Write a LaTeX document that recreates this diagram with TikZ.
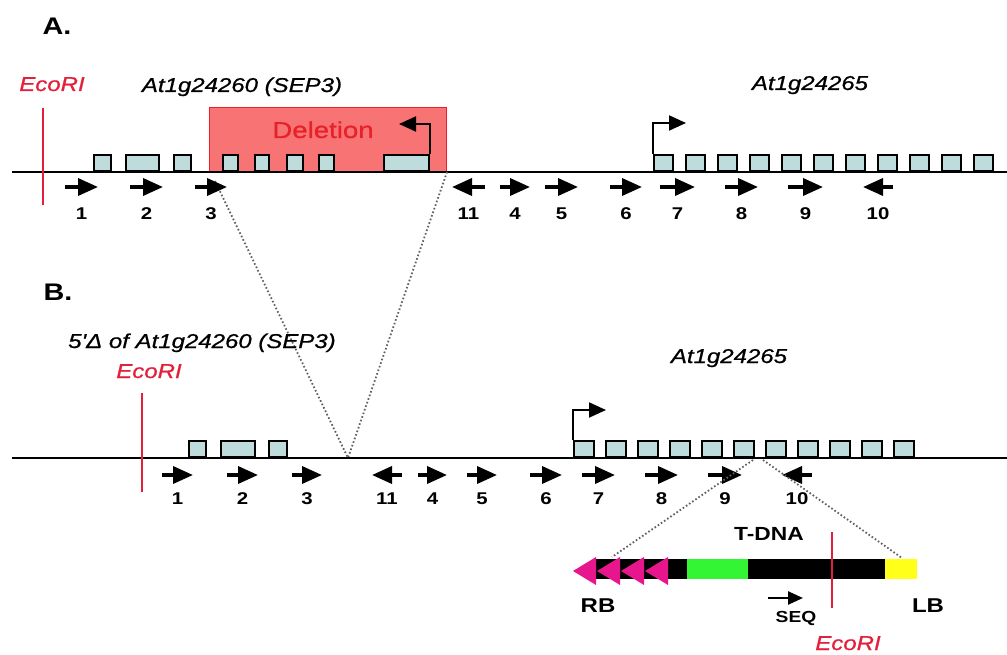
\documentclass[tikz,border=0pt]{standalone}
\usepackage{fontspec}
\setmainfont{Liberation Sans}[FakeStretch=1.2]
\newfontfamily\labfont{Liberation Sans}[FakeStretch=1.2, FakeBold=0.8]
\usepackage{tikz}
\usetikzlibrary{arrows.meta}

\definecolor{exonfill}{HTML}{BFDCDC}
\definecolor{delfill}{HTML}{F87474}
\definecolor{delred}{HTML}{E8202A}
\definecolor{ecored}{HTML}{E3203A}
\definecolor{rbpink}{HTML}{E8168C}
\definecolor{tgreen}{HTML}{33F533}
\definecolor{tyellow}{HTML}{FFFF1A}

\begin{document}
\begin{tikzpicture}[x=1pt, y=-1pt,
    exon/.style={rectangle, draw=black, line width=1.9pt, fill=exonfill, minimum height=16pt, inner sep=0pt, anchor=south west},
    primer/.style={line width=3.5pt, -{Triangle[length=20pt,width=17pt]}},
    bent/.style={line width=2pt, -{Triangle[length=17pt,width=15pt]}},
    site/.style={draw=ecored, line width=1.4pt},
    dna/.style={line width=1.8pt},
    dotline/.style={gray!75!black, line width=1.8pt, dash pattern=on 1.6pt off 2.2pt},
    num/.style={font=\fontsize{17}{20}\selectfont\bfseries, inner sep=0pt, anchor=base},
    gene/.style={font=\labfont\fontsize{20}{24}\selectfont\itshape, inner sep=0pt, anchor=base},
    enzyme/.style={gene, text=ecored},
    panel/.style={font=\fontsize{24}{28}\selectfont\bfseries, inner sep=0pt, anchor=base},
    tlabel/.style={font=\fontsize{19}{22}\selectfont\bfseries, inner sep=0pt, anchor=base},
    block/.style={rectangle, inner sep=0pt, minimum height=20pt, anchor=north west}
]
    \useasboundingbox (0,0) rectangle (1007,655);

    % --- Panel A: wild-type locus ---
    \node[panel] (LabA) at (57,35) {A.};
    \node[enzyme] (EcoA)   at (52,91)  {EcoRI};
    \node[gene]   (GeneA1) at (242,92) {At1g24260 (SEP3)};
    \node[gene]   (GeneA2) at (810,90) {At1g24265};

    % deleted region
    \node[rectangle, draw=delred, fill=delfill, line width=1.2pt, inner sep=0pt,
          minimum width=237pt, minimum height=64pt, anchor=south west] (Del) at (209,172) {};
    \node[font=\labfont\fontsize{23}{26}\selectfont, text=delred, inner sep=0pt, anchor=base] (DelLab) at (323,138) {Deletion};

    \coordinate (AL) at (12,172);
    \coordinate (AR) at (1007,172);
    \draw[dna] (AL) -- (AR);
    \draw[site] (43,108) -- (43,205);

    % exons of At1g24260
    \node[exon, minimum width=17pt] (Ae1) at (93,172)  {};
    \node[exon, minimum width=33pt] (Ae2) at (125,172) {};
    \node[exon, minimum width=17pt] (Ae3) at (173,172) {};
    \node[exon, minimum width=15pt] (Ae4) at (222,172) {};
    \node[exon, minimum width=14pt] (Ae5) at (254,172) {};
    \node[exon, minimum width=16pt] (Ae6) at (286,172) {};
    \node[exon, minimum width=15pt] (Ae7) at (318,172) {};
    \node[exon, minimum width=45pt] (Ae8) at (383,172) {};

    % exons of At1g24265
    \foreach \i in {0,...,10}
        \node[exon, minimum width=19pt] (Af\i) at ({653+32*\i},172) {};

    % transcription starts
    \coordinate (AdelTip) at (399,124);
    \coordinate (AgeneTip) at (686,123);
    \draw[bent] (Ae8.north east) |- (AdelTip);
    \draw[bent] (Af0.north west) |- (AgeneTip);

    % --- lines from A to the junction in B ---
    \coordinate (Acut1) at (215,181);
    \coordinate (Acut2) at (447,172);
    \coordinate (Vtip)  at (348,458);
    \draw[dotline] (Acut1) -- (Vtip);
    \draw[dotline] (Acut2) -- (Vtip);

    % primers A
    \foreach \xa/\xb/\n in {65/98/1, 130/163/2, 195/227/3, 485/452/11, 500/530/4,
                            545/578/5, 610/642/6, 660/695/7, 725/758/8, 788/823/9, 893/863/10} {
        \draw[primer] (\xa,187) -- (\xb,187);
        \node[num] (Ap\n) at ({(\xa+\xb)/2},220) {\n};
    }

    % --- Panel B: deletion allele ---
    \node[panel] (LabB) at (58,300) {B.};
    \node[gene]   (GeneB1) at (202,348) {5'Δ of At1g24260 (SEP3)};
    \node[enzyme] (EcoB)   at (149,378) {EcoRI};
    \node[gene]   (GeneB2) at (729,363) {At1g24265};

    \coordinate (BL) at (12,458);
    \coordinate (BR) at (1007,458);
    \draw[dna] (BL) -- (BR);
    \draw[site] (142,393) -- (142,492);

    \node[exon, minimum width=17pt] (Be1) at (188,458) {};
    \node[exon, minimum width=34pt] (Be2) at (220,458) {};
    \node[exon, minimum width=18pt] (Be3) at (268,458) {};
    \foreach \i in {0,...,10}
        \node[exon, minimum width=20pt] (Bf\i) at ({573+32*\i},458) {};

    \coordinate (BgeneTip) at (606,410);
    \draw[bent] (Bf0.north west) |- (BgeneTip);

    % primers B
    \foreach \xa/\xb/\n in {162/193/1, 227/258/2, 292/322/3, 402/372/11, 418/447/4,
                            467/497/5, 530/562/6, 582/615/7, 645/678/8, 708/742/9, 812/782/10} {
        \draw[primer] (\xa,475) -- (\xb,475);
        \node[num] (Bp\n) at ({(\xa+\xb)/2},504) {\n};
    }

    % --- T-DNA insertion ---
    \coordinate (Ins1) at (753,460);
    \coordinate (Ins2) at (763,460);
    \coordinate (TL) at (612,557);
    \coordinate (TR) at (902,558);
    \draw[dotline] (Ins1) -- (TL);
    \draw[dotline] (Ins2) -- (TR);

    \node[block, fill=black,   minimum width=292pt] (Tbar)   at (593,559) {};
    \node[block, fill=tgreen,  minimum width=61pt]  (Tgreen) at (687,559) {};
    \node[block, fill=tyellow, minimum width=32pt]  (Tlb)    at (885,559) {};
    \foreach \t in {573,597,621,645}
        \fill[rbpink] (\t,571) -- (\t+23,557) -- (\t+23,585) -- cycle;
    \draw[site] (832,532) -- (832,608);

    \node[tlabel] (TLab) at (769,540) {T-DNA};
    \node[tlabel, font=\fontsize{20}{24}\selectfont\bfseries] (RB) at (598,612) {RB};
    \node[tlabel, font=\fontsize{20}{24}\selectfont\bfseries] (LB) at (928,612) {LB};

    \coordinate (SeqA) at (768,598);
    \coordinate (SeqB) at (803,598);
    \draw[line width=2.4pt, -{Triangle[length=15pt,width=13pt]}] (SeqA) -- (SeqB);
    \node[tlabel, font=\fontsize{16}{19}\selectfont\bfseries] (SeqLab) at (796,622) {SEQ};
    \node[enzyme] (EcoT) at (848,650) {EcoRI};

\end{tikzpicture}
\end{document}
